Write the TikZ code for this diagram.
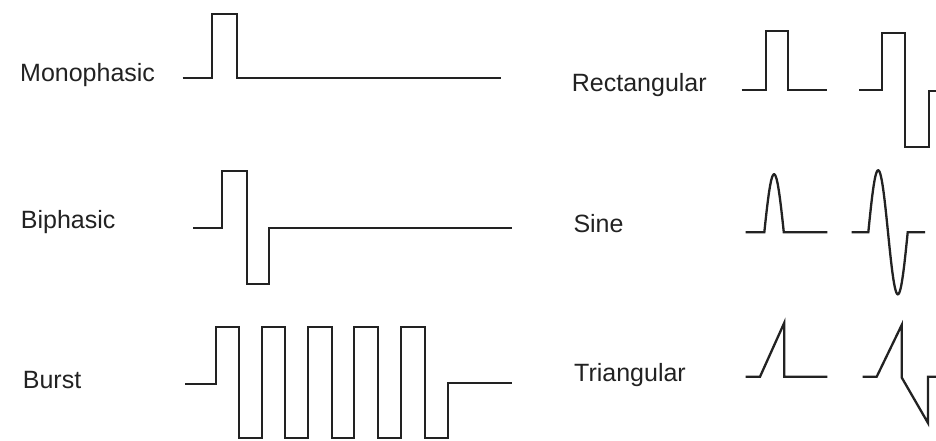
\documentclass[tikz,border=0pt]{standalone}
\usepackage{fontspec}
\setmainfont{Liberation Sans}
\definecolor{ink}{HTML}{222222}
\begin{document}
\begin{tikzpicture}[x=1pt,y=-1pt,
  wave/.style={draw=ink, line width=2.3pt, line join=miter},
  lbl/.style={anchor=base west, inner sep=0pt, font=\fontsize{25}{30}\selectfont, text=ink}]
\useasboundingbox[fill=white] (0,0) rectangle (936,440);
% labels
\node[lbl] (mono) at (20,81.7) {Monophasic};
\node[lbl] (bi) at (20.7,228.3) {Biphasic};
\node[lbl] (burst) at (22.7,388.3) {Burst};
\node[lbl] (rect) at (571.7,91.7) {Rectangular};
\node[lbl] (sine) at (573.3,232.3) {Sine};
\node[lbl] (tri) at (574,381.7) {Triangular};
% monophasic
\draw[wave] (182.7,78.3) -- (211.7,78.3) -- (211.7,14) -- (237.3,14) -- (237.3,78.3) -- (500.7,78.3);
% biphasic
\draw[wave] (193.3,227.7) -- (222.3,227.7) -- (222.3,170.7) -- (246.7,170.7) -- (246.7,284.3)
  -- (269.3,284.3) -- (269.3,227.7) -- (511.7,227.7);
% burst
\draw[wave] (185,384.3) -- (215.7,384.3) -- (215.7,326.7) -- (239.3,326.7) -- (239.3,438)
  -- (261.7,438) -- (261.7,326.7) -- (285,326.7) -- (285,438)
  -- (307.7,438) -- (307.7,326.7) -- (332.3,326.7) -- (332.3,438)
  -- (354.3,438) -- (354.3,326.7) -- (378.3,326.7) -- (378.3,438)
  -- (401,438) -- (401,326.7) -- (425,326.7) -- (425,438)
  -- (448.3,438) -- (448.3,383.3) -- (511.7,383.3);
% rectangular
\draw[wave] (741.7,90) -- (766,90) -- (766,31) -- (788.3,31) -- (788.3,90) -- (826.7,90);
\draw[wave] (859.3,90) -- (882.3,90) -- (882.3,32.7) -- (905,32.7) -- (905,146.7)
  -- (929,146.7) -- (929,90.7) -- (936,90.7);
% sine
\draw[wave] (745.7,232.3) -- (764.3,232.3)
  -- plot[domain=0:180, samples=40] ({764.3+\x/180*19.5},{232.3-58*sin(\x)})
  -- (827.3,232.3);
\draw[wave] (851.7,232.3) -- (868.3,232.3)
  -- plot[domain=0:360, samples=60] ({868.3+\x/360*39.4},{232.3-62*sin(\x)})
  -- (925,232.3);
% triangular
\draw[wave] (745.7,376.7) -- (760,376.7) -- (784.3,322.7) -- (784.3,376.7) -- (827.3,376.7);
\draw[wave] (862.7,376.7) -- (876.7,376.7) -- (901.7,325) -- (901.7,377.5)
  -- (928,423) -- (928,376.7) -- (936,376.7);
\end{tikzpicture}
\end{document}
